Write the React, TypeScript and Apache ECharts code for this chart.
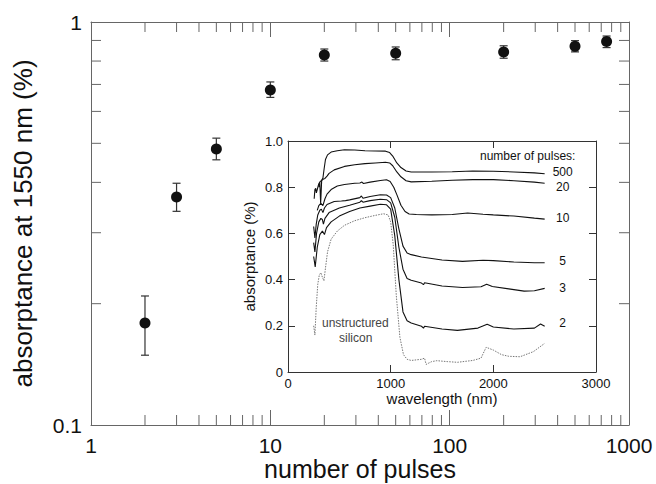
import React, { useEffect, useRef } from "react";
import * as echarts from "echarts";

// ---- main plot data ----
const pulses = [2, 3, 5, 10, 20, 50, 200, 500, 750];
const absorp = [0.179, 0.368, 0.484, 0.678, 0.828, 0.836, 0.843, 0.87, 0.894];
const errLow = [0.149, 0.339, 0.455, 0.65, 0.8, 0.806, 0.813, 0.843, 0.864];
const errHigh = [0.209, 0.398, 0.515, 0.71, 0.857, 0.867, 0.873, 0.899, 0.923];

const xMinorTicks = [2, 3, 4, 5, 6, 7, 8, 9, 20, 30, 40, 50, 60, 70, 80, 90, 200, 300, 400, 500, 600, 700, 800, 900];
const yMinorTicks = [0.2, 0.3, 0.4, 0.5, 0.6, 0.7, 0.8, 0.9];

// ---- inset spectra: [wavelength nm, absorptance] ----
const spec500: [number, number][] = [
  [300, 0.8], [310, 0.82], [318, 0.73], [328, 0.83], [340, 0.84], [352, 0.88], [365, 0.92], [385, 0.94],
  [420, 0.952], [480, 0.958], [550, 0.962], [650, 0.961], [750, 0.958], [850, 0.957], [950, 0.956],
  [990, 0.95], [1020, 0.935], [1060, 0.905], [1100, 0.885], [1150, 0.87], [1200, 0.866], [1400, 0.866],
  [1600, 0.867], [1800, 0.87], [2000, 0.869], [2200, 0.866], [2400, 0.862], [2500, 0.858],
];
const spec20: [number, number][] = [
  [255, 0.75], [262, 0.79], [270, 0.795], [276, 0.775], [285, 0.79], [300, 0.815], [315, 0.825],
  [330, 0.83], [345, 0.835], [360, 0.838], [380, 0.848], [400, 0.86], [450, 0.875], [550, 0.89],
  [650, 0.897], [750, 0.902], [850, 0.905], [950, 0.908], [990, 0.905], [1020, 0.893], [1060, 0.866],
  [1100, 0.845], [1150, 0.828], [1200, 0.823], [1400, 0.826], [1600, 0.83], [1800, 0.833], [2000, 0.833],
  [2200, 0.828], [2400, 0.822], [2500, 0.817],
];
const spec10: [number, number][] = [
  [285, 0.7], [300, 0.72], [320, 0.73], [340, 0.72], [360, 0.75], [380, 0.77], [420, 0.79], [480, 0.805],
  [550, 0.812], [650, 0.817], [700, 0.818], [720, 0.822], [735, 0.816], [800, 0.822], [900, 0.829],
  [960, 0.832], [995, 0.825], [1030, 0.8], [1060, 0.768], [1100, 0.722], [1140, 0.695], [1180, 0.684],
  [1250, 0.682], [1400, 0.68], [1600, 0.682], [1750, 0.688], [1900, 0.683], [2000, 0.68], [2200, 0.675],
  [2400, 0.666], [2500, 0.662],
];
const spec5: [number, number][] = [
  [250, 0.63], [262, 0.58], [275, 0.64], [290, 0.68], [310, 0.7], [325, 0.705], [340, 0.69], [355, 0.71],
  [380, 0.725], [450, 0.738], [520, 0.74], [560, 0.742], [600, 0.745], [700, 0.755], [715, 0.762],
  [730, 0.752], [800, 0.76], [900, 0.767], [960, 0.766], [1000, 0.755], [1040, 0.71], [1080, 0.62],
  [1120, 0.545], [1160, 0.515], [1200, 0.508], [1300, 0.498], [1500, 0.485], [1700, 0.479], [1900, 0.484],
  [2000, 0.482], [2200, 0.476], [2400, 0.473], [2500, 0.473],
];
const spec3: [number, number][] = [
  [250, 0.56], [262, 0.52], [278, 0.6], [300, 0.65], [320, 0.665], [335, 0.66], [345, 0.64], [360, 0.665],
  [400, 0.69], [500, 0.71], [600, 0.722], [700, 0.735], [715, 0.742], [730, 0.735], [800, 0.742],
  [900, 0.748], [960, 0.746], [1000, 0.732], [1040, 0.67], [1080, 0.54], [1120, 0.445], [1160, 0.405],
  [1200, 0.397], [1300, 0.385], [1320, 0.378], [1330, 0.386], [1500, 0.372], [1700, 0.366], [1880, 0.369],
  [1935, 0.38], [1990, 0.37], [2150, 0.36], [2300, 0.35], [2400, 0.352], [2500, 0.362],
];
const spec2: [number, number][] = [
  [250, 0.5], [265, 0.455], [285, 0.54], [310, 0.595], [335, 0.61], [355, 0.595], [375, 0.625], [420, 0.65],
  [500, 0.675], [600, 0.695], [700, 0.71], [800, 0.718], [900, 0.726], [960, 0.724], [1000, 0.705],
  [1040, 0.59], [1080, 0.4], [1120, 0.26], [1160, 0.222], [1200, 0.212], [1300, 0.198], [1320, 0.19],
  [1330, 0.198], [1500, 0.186], [1650, 0.18], [1850, 0.19], [1940, 0.207], [2000, 0.195], [2200, 0.186],
  [2400, 0.19], [2460, 0.208], [2500, 0.198],
];
const specSi: [number, number][] = [
  [250, 0.2], [262, 0.16], [275, 0.28], [290, 0.38], [305, 0.42], [320, 0.43], [335, 0.41], [350, 0.395],
  [365, 0.45], [385, 0.52], [420, 0.575], [480, 0.61], [550, 0.635], [650, 0.655], [750, 0.668], [850, 0.678],
  [930, 0.685], [975, 0.68], [1000, 0.65], [1025, 0.55], [1055, 0.33], [1090, 0.15], [1125, 0.075],
  [1160, 0.055], [1200, 0.05], [1300, 0.055], [1330, 0.06], [1345, 0.033], [1400, 0.045], [1450, 0.049],
  [1550, 0.045], [1650, 0.042], [1800, 0.05], [1880, 0.06], [1930, 0.107], [2000, 0.095], [2080, 0.075],
  [2150, 0.068], [2260, 0.066], [2390, 0.088], [2500, 0.124],
];

const curveNames = ["500", "20", "10", "5", "3", "2"];
const curves = [spec500, spec20, spec10, spec5, spec3, spec2];
const labelOffsets = [-2, 4, -1, -2, 0, -3];

const FONT = "'Liberation Sans', Arial, Helvetica, sans-serif";
const AXIS = "#666";
const INK = "#111";

export default function App() {
  const ref = useRef<HTMLDivElement>(null);

  useEffect(() => {
    if (!ref.current) return;
    const chart = echarts.init(ref.current, undefined, { renderer: "svg" });

    const logFmt = (v: number) => String(+v.toPrecision(3));
    const plainFmt = (v: number) => String(v);

    const mainTickStyle = { lineStyle: { color: AXIS, width: 1 } };

    const option: any = {
      animation: false,
      backgroundColor: "#fff",
      textStyle: { fontFamily: FONT },
      grid: [
        { left: 91, top: 22, width: 538, height: 403, outerBoundsMode: "none" },
        { left: 288, top: 141, width: 308, height: 231, outerBoundsMode: "none" },
      ],
      xAxis: [
        {
          type: "log", logBase: 10, min: 1, max: 1000, gridIndex: 0, position: "bottom",
          axisLine: { show: true, lineStyle: { color: AXIS, width: 1 } },
          axisTick: { show: true, inside: true, length: 15, ...mainTickStyle },
          axisLabel: { show: true, margin: 10, fontSize: 21, color: INK, fontFamily: FONT, formatter: logFmt },
          splitLine: { show: false },
          name: "number of pulses", nameLocation: "middle", nameGap: 31, nameMoveOverlap: false,
          nameTextStyle: { fontSize: 25, lineHeight: 25, color: INK, fontFamily: FONT },
        },
        {
          type: "log", logBase: 10, min: 1, max: 1000, gridIndex: 0, position: "top",
          axisLine: { show: true, lineStyle: { color: AXIS, width: 1 } },
          axisTick: { show: true, inside: true, length: 15, ...mainTickStyle },
          axisLabel: { show: false }, splitLine: { show: false },
        },
        {
          type: "value", min: 0, max: 3000, interval: 1000, gridIndex: 1, position: "bottom",
          axisLine: { show: true, onZero: false, lineStyle: { color: "#333", width: 1 } },
          axisTick: { show: true, inside: true, length: 7, lineStyle: { color: "#333" } },
          axisLabel: { show: true, margin: 5, fontSize: 13, color: INK, fontFamily: FONT, formatter: plainFmt },
          splitLine: { show: false },
          name: "wavelength (nm)", nameLocation: "middle", nameGap: 19, nameMoveOverlap: false,
          nameTextStyle: { fontSize: 15, color: INK, fontFamily: FONT },
        },
        {
          type: "value", min: 0, max: 3000, interval: 1000, gridIndex: 1, position: "top",
          axisLine: { show: true, onZero: false, lineStyle: { color: "#333", width: 1 } },
          axisTick: { show: true, inside: true, length: 7, lineStyle: { color: "#333" } },
          axisLabel: { show: false }, splitLine: { show: false },
        },
      ],
      yAxis: [
        {
          type: "log", logBase: 10, min: 0.1, max: 1, gridIndex: 0, position: "left",
          axisLine: { show: true, lineStyle: { color: AXIS, width: 1 } },
          axisTick: { show: true, inside: true, length: 15, ...mainTickStyle },
          axisLabel: { show: true, margin: 9, fontSize: 21, color: INK, fontFamily: FONT, formatter: logFmt },
          splitLine: { show: false },
          name: "absorptance at 1550 nm (%)", nameLocation: "middle", nameGap: 55, nameMoveOverlap: false,
          nameTextStyle: { fontSize: 26, color: INK, fontFamily: FONT },
        },
        {
          type: "log", logBase: 10, min: 0.1, max: 1, gridIndex: 0, position: "right",
          axisLine: { show: true, lineStyle: { color: AXIS, width: 1 } },
          axisTick: { show: true, inside: true, length: 15, ...mainTickStyle },
          axisLabel: { show: false }, splitLine: { show: false },
        },
        {
          type: "value", min: 0, max: 1, interval: 0.2, gridIndex: 1, position: "left",
          axisLine: { show: true, onZero: false, lineStyle: { color: "#333", width: 1 } },
          axisTick: { show: true, inside: true, length: 7, lineStyle: { color: "#333" } },
          axisLabel: {
            show: true, margin: 5, fontSize: 13, color: INK, fontFamily: FONT,
            formatter: (v: number) => (v === 0 ? "0" : v.toFixed(1)),
          },
          splitLine: { show: false },
          name: "absorptance (%)", nameLocation: "middle", nameGap: 31, nameMoveOverlap: false,
          nameTextStyle: { fontSize: 15, color: INK, fontFamily: FONT },
        },
        {
          type: "value", min: 0, max: 1, interval: 0.2, gridIndex: 1, position: "right",
          axisLine: { show: true, onZero: false, lineStyle: { color: "#333", width: 1 } },
          axisTick: { show: true, inside: true, length: 7, lineStyle: { color: "#333" } },
          axisLabel: { show: false }, splitLine: { show: false },
        },
      ],
      graphic: [
        {
          type: "text", left: 480, top: 150,
          style: { text: "number of pulses:", fontSize: 12, fill: INK, fontFamily: FONT },
        },
        {
          type: "text", left: 322, top: 317,
          style: { text: "unstructured", fontSize: 12, fill: "#444", fontFamily: FONT },
        },
        {
          type: "text", left: 339, top: 332,
          style: { text: "silicon", fontSize: 12, fill: "#444", fontFamily: FONT },
        },
      ],
      series: [
        // x minor ticks (bottom + top)
        {
          type: "custom", xAxisIndex: 0, yAxisIndex: 0, silent: true, clip: false, z: 3,
          data: xMinorTicks.map((v) => [v, 1]),
          renderItem: (_p: any, api: any) => {
            const v = api.value(0);
            const b = api.coord([v, 0.1]);
            const t = api.coord([v, 1]);
            const st = { stroke: AXIS, lineWidth: 1 };
            return {
              type: "group",
              children: [
                { type: "line", shape: { x1: b[0], y1: b[1], x2: b[0], y2: b[1] - 10 }, style: st },
                { type: "line", shape: { x1: t[0], y1: t[1], x2: t[0], y2: t[1] + 10 }, style: st },
              ],
            };
          },
        },
        // y minor ticks (left + right)
        {
          type: "custom", xAxisIndex: 0, yAxisIndex: 0, silent: true, clip: false, z: 3,
          data: yMinorTicks.map((v) => [1, v]),
          renderItem: (_p: any, api: any) => {
            const v = api.value(1);
            const l = api.coord([1, v]);
            const r = api.coord([1000, v]);
            const st = { stroke: AXIS, lineWidth: 1 };
            return {
              type: "group",
              children: [
                { type: "line", shape: { x1: l[0], y1: l[1], x2: l[0] + 10, y2: l[1] }, style: st },
                { type: "line", shape: { x1: r[0], y1: r[1], x2: r[0] - 10, y2: r[1] }, style: st },
              ],
            };
          },
        },
        // error bars
        {
          type: "custom", xAxisIndex: 0, yAxisIndex: 0, silent: true, z: 4,
          data: pulses.map((p, i) => [p, absorp[i], errLow[i], errHigh[i]]),
          renderItem: (_p: any, api: any) => {
            const x = api.value(0);
            const lo = api.coord([x, api.value(2)]);
            const hi = api.coord([x, api.value(3)]);
            const st = { stroke: "#333", lineWidth: 1.2 };
            const w = 4;
            return {
              type: "group",
              children: [
                { type: "line", shape: { x1: lo[0], y1: lo[1], x2: hi[0], y2: hi[1] }, style: st },
                { type: "line", shape: { x1: lo[0] - w, y1: lo[1], x2: lo[0] + w, y2: lo[1] }, style: st },
                { type: "line", shape: { x1: hi[0] - w, y1: hi[1], x2: hi[0] + w, y2: hi[1] }, style: st },
              ],
            };
          },
        },
        // data points
        {
          type: "scatter", xAxisIndex: 0, yAxisIndex: 0, z: 5,
          symbol: "circle", symbolSize: 11,
          itemStyle: { color: "#111", opacity: 1 },
          data: pulses.map((p, i) => [p, absorp[i]]),
        },
        // inset spectra
        ...curves.map((c, i) => ({
          type: "line", xAxisIndex: 2, yAxisIndex: 2, name: curveNames[i],
          showSymbol: false, symbol: "none", smooth: false, z: 6,
          lineStyle: { color: "#111", width: 1.1 },
          data: c,
          endLabel: {
            show: true, formatter: curveNames[i], distance: 18, align: "center",
            offset: [0, labelOffsets[i]], fontSize: 12, color: INK, fontFamily: FONT,
          },
        })),
        {
          type: "line", xAxisIndex: 2, yAxisIndex: 2, name: "unstructured silicon",
          showSymbol: false, symbol: "none", z: 6,
          lineStyle: { color: "#777", width: 1, type: [1.5, 1.2] },
          data: specSi,
        },
      ],
    };

    chart.setOption(option);
    return () => chart.dispose();
  }, []);

  return <div ref={ref} style={{ width: 656, height: 484, position: "absolute", left: 0, top: 0 }} />;
}
